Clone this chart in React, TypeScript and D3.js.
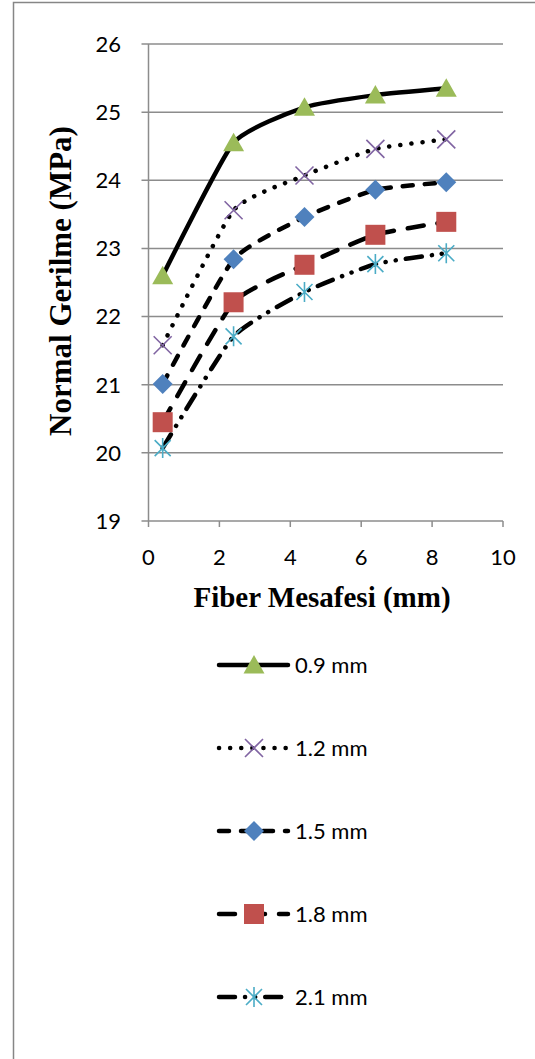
import React, { useEffect, useRef } from 'react';
import * as d3 from 'd3';

// Fiber spacing (mm) at which each series was measured
const fiberSpacing = [0.4, 2.4, 4.4, 6.4, 8.4];

// Normal stress (MPa) per fiber diameter
const series09 = [22.6, 24.55, 25.07, 25.25, 25.35];
const series12 = [21.58, 23.56, 24.07, 24.46, 24.6];
const series15 = [21.01, 22.84, 23.46, 23.86, 23.97];
const series18 = [20.45, 22.21, 22.76, 23.2, 23.39];
const series21 = [20.07, 21.71, 22.36, 22.77, 22.93];

const seriesNames = ['0.9 mm', '1.2 mm', '1.5 mm', '1.8 mm', '2.1 mm'];
const xTicks = [0, 2, 4, 6, 8, 10];
const yTicks = [19, 20, 21, 22, 23, 24, 25, 26];

type MarkerKind = 'triangle' | 'x' | 'diamond' | 'square' | 'star';

const styles: { dash: string | null; marker: MarkerKind; color: string }[] = [
  { dash: null, marker: 'triangle', color: '#9BBB59' },
  { dash: '0.1 11', marker: 'x', color: '#8064A2' },
  { dash: '10 12', marker: 'diamond', color: '#4F81BD' },
  { dash: '16 14', marker: 'square', color: '#C0504D' },
  { dash: '16 10 0.1 10 0.1 10', marker: 'star', color: '#4BACC6' },
];

const tickFont = 'Lato, "Open Sans", sans-serif';

const App: React.FC = () => {
  const svgRef = useRef<SVGSVGElement>(null);

  useEffect(() => {
    if (!svgRef.current) return;
    const svg = d3.select(svgRef.current);
    svg.selectAll('*').remove();

    const width = 535;
    const height = 1059;
    const allSeries = [series09, series12, series15, series18, series21];

    const x = d3.scaleLinear().domain([0, 10]).range([148.5, 503]);
    const y = d3.scaleLinear().domain([19, 26]).range([521, 44]);

    svg.attr('width', width).attr('height', height);

    // chart frame
    svg.append('path')
      .attr('d', `M13.5,${height} L13.5,2.5 L${width},2.5`)
      .attr('fill', 'none')
      .attr('stroke', '#868686')
      .attr('stroke-width', 1.5);

    // gridlines + y ticks
    const grid = svg.append('g');
    yTicks.forEach(t => {
      grid.append('line')
        .attr('x1', x(0) - 7).attr('x2', x(10))
        .attr('y1', y(t)).attr('y2', y(t))
        .attr('stroke', '#8c8c8c')
        .attr('stroke-width', 1.5);
      grid.append('text')
        .attr('x', 121).attr('y', y(t))
        .attr('dy', '0.36em')
        .attr('text-anchor', 'end')
        .attr('font-family', tickFont)
        .attr('font-size', 22)
        .attr('fill', '#000')
        .text(t);
    });

    // y axis line
    svg.append('line')
      .attr('x1', x(0)).attr('x2', x(0))
      .attr('y1', y(26)).attr('y2', y(19))
      .attr('stroke', '#8c8c8c')
      .attr('stroke-width', 1.5);

    // x ticks
    xTicks.forEach(t => {
      svg.append('line')
        .attr('x1', x(t)).attr('x2', x(t))
        .attr('y1', y(19)).attr('y2', y(19) + 6)
        .attr('stroke', '#8c8c8c')
        .attr('stroke-width', 1.5);
      svg.append('text')
        .attr('x', x(t)).attr('y', 557)
        .attr('dy', '0.36em')
        .attr('text-anchor', 'middle')
        .attr('font-family', tickFont)
        .attr('font-size', 22)
        .text(t);
    });

    // axis titles
    svg.append('text')
      .attr('x', 322).attr('y', 607)
      .attr('text-anchor', 'middle')
      .attr('font-family', '"Liberation Serif", serif')
      .attr('font-weight', 'bold')
      .attr('font-size', 29)
      .text('Fiber Mesafesi (mm)');

    svg.append('text')
      .attr('transform', `translate(71,281) rotate(-90)`)
      .attr('text-anchor', 'middle')
      .attr('font-family', '"Liberation Serif", serif')
      .attr('font-weight', 'bold')
      .attr('font-size', 31)
      .text('Normal Gerilme (MPa)');

    const drawMarker = (g: d3.Selection<SVGGElement, unknown, null, undefined>, kind: MarkerKind, color: string) => {
      if (kind === 'triangle') {
        g.append('path').attr('d', 'M0,-10 L10.5,8.5 L-10.5,8.5 Z').attr('fill', color);
      } else if (kind === 'x') {
        g.append('path').attr('d', 'M-9,-9 L9,9 M-9,9 L9,-9')
          .attr('stroke', color).attr('stroke-width', 1.6).attr('fill', 'none');
      } else if (kind === 'diamond') {
        g.append('path').attr('d', 'M0,-10 L10,0 L0,10 L-10,0 Z').attr('fill', color);
      } else if (kind === 'square') {
        g.append('rect').attr('x', -10).attr('y', -10).attr('width', 20).attr('height', 20).attr('fill', color);
      } else {
        g.append('path').attr('d', 'M-8,-8 L8,8 M-8,8 L8,-8 M0,-10 L0,10')
          .attr('stroke', color).attr('stroke-width', 1.6).attr('fill', 'none');
      }
    };

    const line = d3.line<number>()
      .x((_, i) => x(fiberSpacing[i]))
      .y(d => y(d))
      .curve(d3.curveCardinal.tension(0.5));

    allSeries.forEach((vals, si) => {
      const st = styles[si];
      const p = svg.append('path')
        .datum(vals)
        .attr('d', line)
        .attr('fill', 'none')
        .attr('stroke', '#000')
        .attr('stroke-width', 4.5)
        .attr('stroke-linecap', 'round');
      if (st.dash) p.attr('stroke-dasharray', st.dash);
    });

    allSeries.forEach((vals, si) => {
      const st = styles[si];
      vals.forEach((v, i) => {
        const g = svg.append('g').attr('transform', `translate(${x(fiberSpacing[i])},${y(v)})`);
        drawMarker(g, st.marker, st.color);
      });
    });

    // legend
    const legend = svg.append('g');
    seriesNames.forEach((name, i) => {
      const st = styles[i];
      const ly = 665 + i * 83;
      const l = legend.append('line')
        .attr('x1', 219).attr('x2', 288)
        .attr('y1', ly).attr('y2', ly)
        .attr('stroke', '#000')
        .attr('stroke-width', 4.5)
        .attr('stroke-linecap', 'round');
      if (st.dash) l.attr('stroke-dasharray', st.dash);
      const g = legend.append('g').attr('transform', `translate(254,${ly})`);
      drawMarker(g, st.marker, st.color);
      legend.append('text')
        .attr('x', 295).attr('y', ly)
        .attr('dy', '0.36em')
        .attr('font-family', tickFont)
        .attr('font-size', 22)
        .text(name);
    });
  }, []);

  return <svg ref={svgRef} style={{ position: 'absolute', left: 0, top: 0, background: '#fff' }} />;
};

export default App;
